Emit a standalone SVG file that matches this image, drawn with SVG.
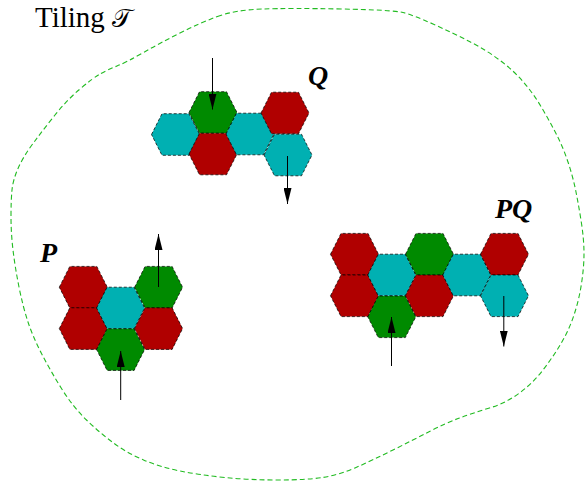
<svg xmlns="http://www.w3.org/2000/svg" xmlns:xlink="http://www.w3.org/1999/xlink" width="586" height="482" viewBox="0 0 586 482">
<style>
.red{fill:#b00000}
.grn{fill:#008a00}
.cyn{fill:#00b0b2}
.hx{stroke:#000;stroke-width:0.8;stroke-dasharray:3 2;stroke-opacity:0.9}
.lbl{font-family:"Liberation Serif","Times New Roman",serif;font-style:italic;font-weight:bold;font-size:28px;fill:#000}
.arr{stroke:#000;stroke-width:1;fill:none;marker-end:url(#ah)}
</style>
<defs>
<polygon id="hex" points="-24,0 -13.5,-20.8 13.5,-20.8 24,0 13.5,20.8 -13.5,20.8"/>
<marker id="ah" markerUnits="userSpaceOnUse" markerWidth="16" markerHeight="8" refX="16" refY="4" orient="auto">
<path d="M0,0 L16,4 L0,8 z" fill="#000"/>
</marker>
</defs>
<rect width="586" height="482" fill="#fff"/>
<g id="boundary">
<path d="M217.5,16.5 Q235,10 262.5,9 Q290,8 341.5,9 Q393,10 403,12.5 Q413,15 433,24 Q453,33 469.5,41.5 Q486,50 499.5,60 Q513,70 523,81.5 Q533,93 541,106.5 Q549,120 556,133.5 Q563,147 568,162 Q573,177 576,192 Q579,207 581.5,223.5 Q584,240 584,253.5 Q584,267 581.5,283.5 Q579,300 574,315 Q569,330 561,343.5 Q553,357 543,370 Q533,383 519.5,393 Q506,403 489.5,408 Q473,413 459.5,418 Q446,423 429.5,431.5 Q413,440 393,450 Q373,460 356,467.5 Q339,475 322.5,477.5 Q306,480 278,480 Q250,480 225,477.5 Q200,475 180,471 Q160,467 143.5,460 Q127,453 113.5,443 Q100,433 86.5,420 Q73,407 61.5,388.5 Q50,370 41.5,353.5 Q33,337 28,322 Q23,307 19,287 Q15,267 13,250 Q11,233 11,216.5 Q11,200 12,190 Q13,180 18,168.5 Q23,157 33,143.5 Q43,130 55,115 Q67,100 80,89 Q93,78 100,74 Q107,70 117,66 Q127,62 143.5,52.5 Q160,43 180,33 Q200,23 217.5,16.5 Z" fill="none" stroke="#22bb22" stroke-width="1.1" stroke-dasharray="5 3"/>
</g>
<g id="title">
<text x="35" y="26.5" font-family="Liberation Serif, Times New Roman, serif" font-size="29" fill="#000">Tiling <tspan font-family="DejaVu Serif, DejaVu Sans, serif" font-size="26">𝒯</tspan></text>
</g>
<g id="Q">
<use id="q1" href="#hex" xlink:href="#hex" class="cyn hx" x="175.5" y="134.5"/>
<use id="q2" href="#hex" xlink:href="#hex" class="grn hx" x="213" y="112.5"/>
<use id="q3" href="#hex" xlink:href="#hex" class="red hx" x="213" y="154"/>
<use id="q4" href="#hex" xlink:href="#hex" class="cyn hx" x="250" y="134"/>
<use id="q5" href="#hex" xlink:href="#hex" class="red hx" x="285" y="113"/>
<use id="q6" href="#hex" xlink:href="#hex" class="cyn hx" x="288" y="155"/>
<text class="lbl" x="308" y="85">Q</text>
</g>
<g id="P">
<use id="p1" href="#hex" xlink:href="#hex" class="red hx" x="83.3" y="287.2"/>
<use id="p2" href="#hex" xlink:href="#hex" class="red hx" x="83.3" y="328.6"/>
<use id="p3" href="#hex" xlink:href="#hex" class="cyn hx" x="120.6" y="308"/>
<use id="p4" href="#hex" xlink:href="#hex" class="grn hx" x="120.6" y="349.6"/>
<use id="p5" href="#hex" xlink:href="#hex" class="grn hx" x="158.6" y="287.2"/>
<use id="p6" href="#hex" xlink:href="#hex" class="red hx" x="158.6" y="328.6"/>
<text class="lbl" x="40" y="262">P</text>
</g>
<g id="PQ">
<use id="pq1" href="#hex" xlink:href="#hex" class="red hx" x="354.5" y="254.2"/>
<use id="pq2" href="#hex" xlink:href="#hex" class="red hx" x="354.5" y="295.8"/>
<use id="pq3" href="#hex" xlink:href="#hex" class="cyn hx" x="391.8" y="275"/>
<use id="pq4" href="#hex" xlink:href="#hex" class="grn hx" x="391.8" y="316.8"/>
<use id="pq5" href="#hex" xlink:href="#hex" class="grn hx" x="429.5" y="254.2"/>
<use id="pq6" href="#hex" xlink:href="#hex" class="red hx" x="429.5" y="295.8"/>
<use id="pq7" href="#hex" xlink:href="#hex" class="cyn hx" x="466.8" y="275"/>
<use id="pq8" href="#hex" xlink:href="#hex" class="red hx" x="504.5" y="254.2"/>
<use id="pq9" href="#hex" xlink:href="#hex" class="cyn hx" x="504.5" y="295.8"/>
<text class="lbl" x="495" y="218">PQ</text>
</g>
<g id="connectors">
<line class="arr" x1="212.5" y1="58" x2="212.5" y2="109.5"/>
<line class="arr" x1="287.5" y1="156" x2="287.5" y2="204"/>
<line class="arr" x1="120.7" y1="400" x2="120.7" y2="351"/>
<line class="arr" x1="158.5" y1="287" x2="158.5" y2="234"/>
<line class="arr" x1="391.5" y1="366" x2="391.5" y2="317"/>
<line class="arr" x1="503.8" y1="296" x2="503.8" y2="346.5"/>
</g>
</svg>
